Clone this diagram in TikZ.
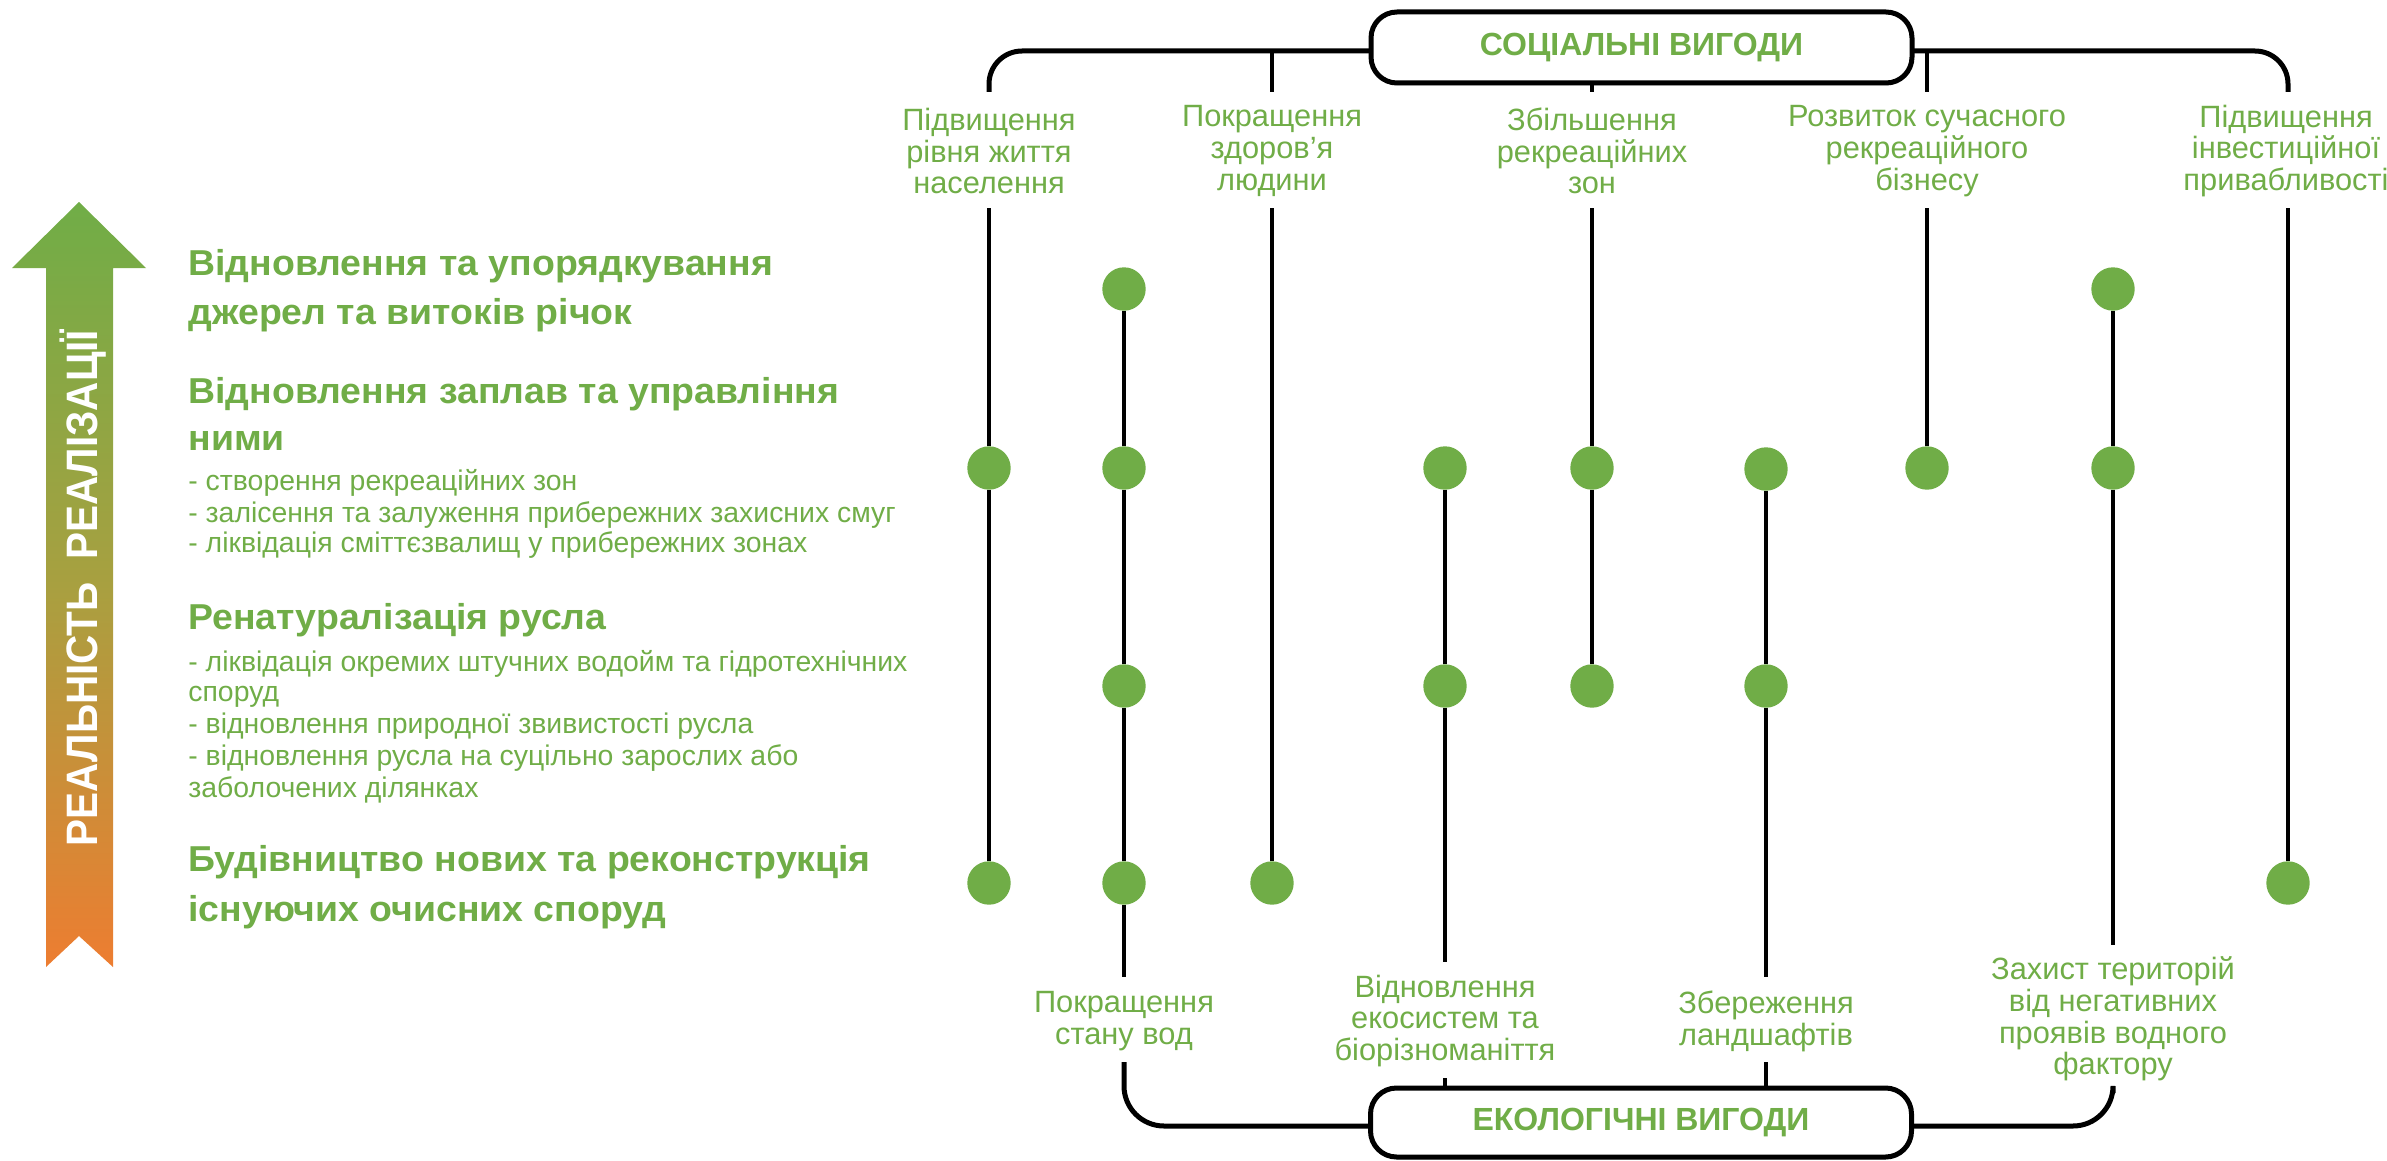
\documentclass[tikz,border=0pt]{standalone}
\usepackage{fontspec}
\setmainfont{Liberation Sans}
\newfontfamily\arrowfont[FakeStretch=0.92]{Liberation Sans}
\newfontfamily\headfont[FakeStretch=1.04]{Liberation Sans}
\usetikzlibrary{shadows}
\definecolor{lgreen}{HTML}{70AD47}
\definecolor{lorange}{HTML}{ED7D31}
\definecolor{lolive}{HTML}{A8A040}
\begin{document}
\begin{tikzpicture}[x=0.5pt,y=-0.5pt,
  conn/.style={line width=2pt,black},
  brackettop/.style={line width=2.5pt,rounded corners=16.5pt},
  bracketbot/.style={line width=2.5pt,rounded corners=20pt},
  benefit/.style={draw,line width=2.5pt,rounded corners=13pt,fill=white,
    minimum width=270.5pt,inner sep=0pt,text=lgreen,
    font=\fontsize{16}{18}\selectfont\bfseries,
    drop shadow={shadow xshift=0.6pt,shadow yshift=-1.2pt,opacity=0.45}},
  dot/.style={circle,fill=lgreen,minimum size=21.7pt,inner sep=0pt},
  lbl/.style={align=center,text=lgreen,inner sep=0pt,
    font=\fontsize{15.4}{15.9}\selectfont},
  head/.style={anchor=base west,text=lgreen,inner sep=0pt,
    font=\headfont\bfseries\fontsize{18}{20}\selectfont},
  bul/.style={anchor=base west,text=lgreen,inner sep=0pt,
    font=\fontsize{14.2}{15}\selectfont},
]
\useasboundingbox (0,0) rectangle (2387,1161);

% ---------- gradient arrow ----------
\shade[top color=lgreen,bottom color=lorange,middle color=lolive]
  (79,202) -- (146,268) -- (113,268) -- (113,967) -- (79,936) -- (46,967)
  -- (46,268) -- (12,268) -- cycle;
\node[rotate=90,anchor=base,text=white,inner sep=0pt,
  font=\arrowfont\bfseries\fontsize{22}{24}\selectfont] (arrowtxt) at (97,588)
  {РЕАЛЬНІСТЬ\ \ РЕАЛІЗАЦІЇ};

% ---------- left texts ----------
\node[head] (h1a) at (188,275.5) {Відновлення та упорядкування};
\node[head] (h1b) at (188,324.5) {джерел та витоків річок};
\node[head] (h2a) at (188,403.5) {Відновлення заплав та управління};
\node[head] (h2b) at (188,450.5) {ними};
\node[bul] (b1a) at (188,490) {- створення рекреаційних зон};
\node[bul] (b1b) at (188,522) {- залісення та залуження прибережних захисних смуг};
\node[bul] (b1c) at (188,552.5) {- ліквідація сміттєзвалищ у прибережних зонах};
\node[head] (h3) at (188,629.5) {Ренатуралізація русла};
\node[bul] (b2a) at (188,671.5) {- ліквідація окремих штучних водойм та гідротехнічних};
\node[bul] (b2b) at (188,701.5) {споруд};
\node[bul] (b2c) at (188,733.5) {- відновлення природної звивистості русла};
\node[bul] (b2d) at (188,765.5) {- відновлення русла на суцільно зарослих або};
\node[bul] (b2e) at (188,797.5) {заболочених ділянках};
\node[head] (h4a) at (188,871) {Будівництво нових та реконструкція};
\node[head] (h4b) at (188,921) {існуючих очисних споруд};

% ---------- brackets ----------
\coordinate (brT) at (1641,51);
\coordinate (sL) at (989,92);
\coordinate (sR) at (2288,92);
\coordinate (s2) at (1272,92);
\coordinate (s3) at (1592,92);
\coordinate (s4) at (1927,92);
\draw[brackettop] (sL) -- (sL |- brT) -- (sR |- brT) -- (sR);
\draw[conn] (s2 |- brT) -- (s2);
\draw[conn] (s4 |- brT) -- (s4);

\coordinate (brB) at (1641,1126);
\coordinate (eL) at (1124,1062);
\coordinate (eR) at (2113,1093);
\coordinate (e2) at (1445,1078);
\coordinate (e3) at (1766,1062);
\draw[bracketbot] (eL) -- (eL |- brB) -- (eR |- brB) -- (eR);

\node[benefit,minimum height=35.5pt] (soc) at (1641.5,47.5) {СОЦІАЛЬНІ ВИГОДИ};
\node[benefit,minimum height=34.5pt] (eco) at (1641,1122.5) {ЕКОЛОГІЧНІ ВИГОДИ};
\draw[conn] (soc.south -| s3) -- (s3);
\draw[conn] (e2) -- (eco.north -| e2);
\draw[conn] (e3) -- (eco.north -| e3);

% ---------- labels ----------
\node[lbl] (lt1) at (989,151) {Підвищення\\рівня життя\\населення};
\node[lbl] (lt2) at (1272,151) {Покращення\\здоров’я\\людини};
\node[lbl] (lt3) at (1592,151) {Збільшення\\рекреаційних\\зон};
\node[lbl] (lt4) at (1927,151) {Розвиток сучасного\\рекреаційного\\бізнесу};
\node[lbl] (lt5) at (2286,151) {Підвищення\\інвестиційної\\привабливості};

\node[lbl] (lb1) at (1124,1021) {Покращення\\стану вод};
\node[lbl] (lb2) at (1445,1021) {Відновлення\\екосистем та\\біорізноманіття};
\node[lbl] (lb3) at (1766,1021) {Збереження\\ландшафтів};
\node[lbl] (lb4) at (2113,1019) {Захист територій\\від негативних\\проявів водного\\фактору};

% ---------- dots ----------
\node[dot] (d1a) at (1124,289) {};
\node[dot] (d1b) at (2113,289) {};
\node[dot] (d2a) at (989,468) {};
\node[dot] (d2b) at (1124,468) {};
\node[dot] (d2c) at (1445,468) {};
\node[dot] (d2d) at (1592,468) {};
\node[dot] (d2e) at (1766,469) {};
\node[dot] (d2f) at (1927,468) {};
\node[dot] (d2g) at (2113,468) {};
\node[dot] (d3a) at (1124,686) {};
\node[dot] (d3b) at (1445,686) {};
\node[dot] (d3c) at (1592,686) {};
\node[dot] (d3d) at (1766,686) {};
\node[dot] (d4a) at (989,883) {};
\node[dot] (d4b) at (1124,883) {};
\node[dot] (d4c) at (1272,883) {};
\node[dot] (d4d) at (2288,883) {};

% ---------- vertical connectors ----------
\coordinate (u1) at (989,208);
\coordinate (u2) at (1272,208);
\coordinate (u3) at (1592,208);
\coordinate (u4) at (1927,208);
\coordinate (u5) at (2288,208);
\coordinate (w1) at (1124,977);
\coordinate (w2) at (1445,962);
\coordinate (w3) at (1766,977);
\coordinate (w4) at (2113,945);

\draw[conn] (u1) -- (d2a) -- (d4a);
\draw[conn] (u2) -- (d4c);
\draw[conn] (u3) -- (d2d) -- (d3c);
\draw[conn] (u4) -- (d2f);
\draw[conn] (u5) -- (d4d);
\draw[conn] (d1a) -- (d2b) -- (d3a) -- (d4b) -- (w1);
\draw[conn] (d2c) -- (d3b) -- (w2);
\draw[conn] (d2e) -- (d3d) -- (w3);
\draw[conn] (d1b) -- (d2g) -- (w4);
\end{tikzpicture}
\end{document}
